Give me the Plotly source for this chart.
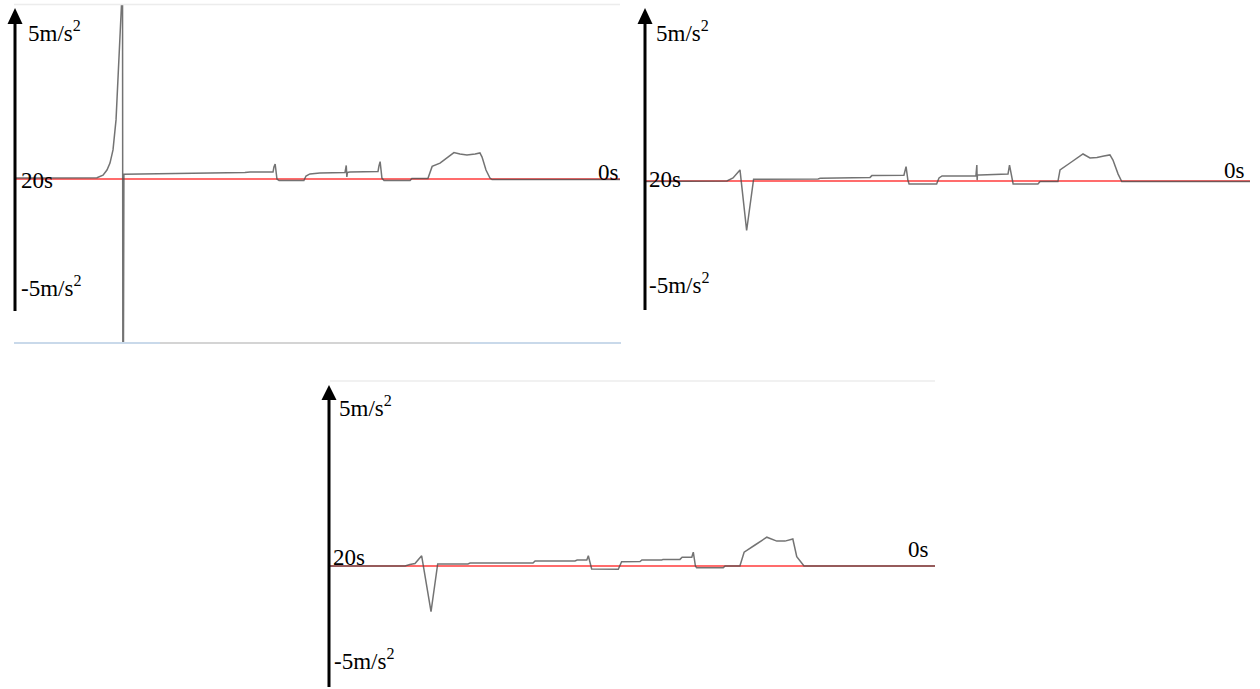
import plotly.graph_objects as go

W, H = 1260, 689

# ---- data: time remaining (s) and acceleration (m/s^2) ----
t1 = [20.0, 17.29, 17.09, 16.96, 16.86, 16.76, 16.66, 16.60, 16.53, 16.48, 16.45, 16.43, 16.40,
      14.21, 13.88, 12.40, 12.23, 11.47, 11.44, 11.40, 11.34, 11.27, 10.45, 10.38, 10.25, 9.92,
      9.09, 9.05, 9.03, 9.01, 8.93, 8.00, 7.97, 7.93, 7.87, 7.80, 6.94, 6.88, 6.35, 6.28, 6.21,
      5.95, 5.62, 5.49, 5.29, 5.06, 4.79, 4.63, 4.56, 4.43, 4.30, 4.23, 0.0]
a1 = [0.03, 0.04, 0.13, 0.30, 0.53, 0.97, 1.97, 3.13, 4.63, 5.80, 12.0, -12.0, 0.16,
      0.18, 0.20, 0.22, 0.23, 0.23, 0.40, 0.50, 0.00, -0.05, -0.05, 0.10, 0.17, 0.20,
      0.22, 0.45, 0.07, 0.22, 0.23, 0.25, 0.43, 0.58, 0.03, -0.05, -0.05, 0.02, 0.02, 0.23, 0.42,
      0.53, 0.80, 0.88, 0.83, 0.80, 0.83, 0.87, 0.73, 0.30, 0.03, -0.02, -0.02]

t2 = [20.0, 17.29, 17.09, 16.86, 16.64, 16.41, 14.28, 14.21, 12.56, 12.50, 11.44, 11.37, 11.31,
      11.27, 10.36, 10.28, 10.18, 9.06, 9.03, 9.02, 9.01, 8.93, 8.00, 7.95, 7.87, 7.83, 7.01,
      6.94, 6.35, 6.28, 5.95, 5.52, 5.29, 5.06, 4.83, 4.63, 4.53, 4.36, 4.24, 0.0]
a2 = [-0.02, 0.0, 0.10, 0.37, -1.65, 0.06, 0.07, 0.09, 0.12, 0.18, 0.19, 0.48, 0.03,
      -0.10, -0.10, 0.10, 0.17, 0.17, 0.53, 0.03, 0.20, 0.20, 0.23, 0.53, 0.03, -0.10, -0.10,
      -0.02, -0.02, 0.37, 0.60, 0.90, 0.77, 0.78, 0.83, 0.87, 0.70, 0.23, -0.02, -0.02]

t3 = [20.0, 17.52, 17.36, 17.19, 16.97, 16.66, 16.44, 15.44, 15.37, 13.29, 13.22, 11.90, 11.83,
      11.51, 11.46, 11.39, 11.35, 10.47, 10.36, 9.75, 9.69, 9.03, 8.99, 8.43, 8.36, 8.04, 7.99,
      7.92, 7.88, 7.00, 6.94, 6.45, 6.31, 5.95, 5.56, 5.23, 4.96, 4.70, 4.57, 4.33, 0.0]
a3 = [0.0, 0.0, 0.05, 0.08, 0.34, -1.52, 0.07, 0.07, 0.10, 0.10, 0.17, 0.17, 0.20,
      0.20, 0.34, 0.0, -0.10, -0.11, 0.14, 0.15, 0.20, 0.20, 0.22, 0.22, 0.29, 0.29, 0.46,
      0.0, -0.06, -0.06, 0.0, 0.0, 0.46, 0.70, 0.96, 0.83, 0.83, 0.90, 0.31, 0.0, 0.0]

time_labels = ["20s", "0s"]
acc_labels = ["5m/s<sup>2</sup>", "-5m/s<sup>2</sup>"]

# ---- layout geometry (pixels) ----
PX_PER_UNIT = 30.0
panels = [
    dict(x0=15, x1=620, yt=5, yb=343, yz=179, t=t1, a=a1),
    dict(x0=645, x1=1250, yt=5, yb=343, yz=181, t=t2, a=a2),
    dict(x0=330, x1=935, yt=381, yb=689, yz=566, t=t3, a=a3),
]


def X(px):
    return px / W


def Y(py):
    return 1 - py / H


fig = go.Figure()
shapes = []
annotations = []
FONT = dict(family='"Liberation Serif", "Times New Roman", Times, serif', size=23, color="black")

label_pos = [
    dict(p5=(26, 31), z=(19, 180), o=(621, 172), m5=(19, 286), ar=(15, 8, 24, 311)),
    dict(p5=(654, 31), z=(647, 179), o=(1247, 170), m5=(647, 283), ar=(645, 8, 24, 310)),
    dict(p5=(337, 406), z=(331, 557), o=(931, 549), m5=(332, 659), ar=(329, 385, 400, 687)),
]

for i, p in enumerate(panels, start=1):
    xa = "xaxis" if i == 1 else f"xaxis{i}"
    ya = "yaxis" if i == 1 else f"yaxis{i}"
    top = (p["yz"] - p["yt"]) / PX_PER_UNIT
    bot = -(p["yb"] - p["yz"]) / PX_PER_UNIT
    fig.update_layout({
        xa: dict(domain=[X(p["x0"]), X(p["x1"])], range=[20, 0], visible=False,
                 anchor=f"y{i if i > 1 else ''}"),
        ya: dict(domain=[Y(p["yb"]), Y(p["yt"])], range=[bot, top], visible=False,
                 anchor=f"x{i if i > 1 else ''}"),
    })
    xr = "x" if i == 1 else f"x{i}"
    yr = "y" if i == 1 else f"y{i}"
    shapes.append(dict(type="line", xref=xr, yref=yr, x0=20, x1=0, y0=0, y1=0,
                       line=dict(color="#ff3b3b", width=1.5), layer="below"))
    fig.add_trace(go.Scatter(x=p["t"], y=p["a"], mode="lines", xaxis=xr, yaxis=yr,
                             line=dict(color="rgba(80,80,80,0.8)", width=1.5),
                             hoverinfo="skip", showlegend=False, cliponaxis=True))

    lp = label_pos[i - 1]
    ax, tip, base, bottom = lp["ar"]
    shapes.append(dict(type="line", xref="paper", yref="paper", x0=X(ax), x1=X(ax),
                       y0=Y(base - 2), y1=Y(bottom), line=dict(color="black", width=3)))
    shapes.append(dict(type="path", xref="paper", yref="paper",
                       path=f"M {X(ax - 7.5)} {Y(base)} L {X(ax)} {Y(tip)} L {X(ax + 7.5)} {Y(base)} Z",
                       fillcolor="black", line=dict(color="black", width=0)))
    annotations.append(dict(text=acc_labels[0], x=X(lp["p5"][0]), y=Y(lp["p5"][1]), xref="paper",
                            yref="paper", xanchor="left", yanchor="middle", showarrow=False, font=FONT))
    annotations.append(dict(text=acc_labels[1], x=X(lp["m5"][0]), y=Y(lp["m5"][1]), xref="paper",
                            yref="paper", xanchor="left", yanchor="middle", showarrow=False, font=FONT))
    annotations.append(dict(text=time_labels[0], x=X(lp["z"][0]), y=Y(lp["z"][1]), xref="paper",
                            yref="paper", xanchor="left", yanchor="middle", showarrow=False, font=FONT))
    annotations.append(dict(text=time_labels[1], x=X(lp["o"][0]), y=Y(lp["o"][1]), xref="paper",
                            yref="paper", xanchor="right", yanchor="middle", showarrow=False, font=FONT))

# panel frame lines (screenshot borders)
shapes.append(dict(type="line", xref="paper", yref="paper", x0=X(14), x1=X(620), y0=Y(4.5), y1=Y(4.5),
                   line=dict(color="#ececec", width=1.5)))
shapes.append(dict(type="line", xref="paper", yref="paper", x0=X(14), x1=X(621), y0=Y(343), y1=Y(343),
                   line=dict(color="#c9d9ea", width=2)))
shapes.append(dict(type="line", xref="paper", yref="paper", x0=X(160), x1=X(470), y0=Y(343), y1=Y(343),
                   line=dict(color="#d4d4d4", width=2)))
shapes.append(dict(type="line", xref="paper", yref="paper", x0=X(330), x1=X(935), y0=Y(381), y1=Y(381),
                   line=dict(color="#ececec", width=1.5)))

fig.update_layout(width=W, height=H, margin=dict(l=0, r=0, t=0, b=0), autosize=False,
                  paper_bgcolor="white", plot_bgcolor="white", shapes=shapes,
                  annotations=annotations, showlegend=False)

fig.write_html("out.html", config={"displayModeBar": False},
               post_script="document.documentElement.style.margin='0';document.body.style.margin='0';"
                           "document.body.style.overflow='hidden';")
